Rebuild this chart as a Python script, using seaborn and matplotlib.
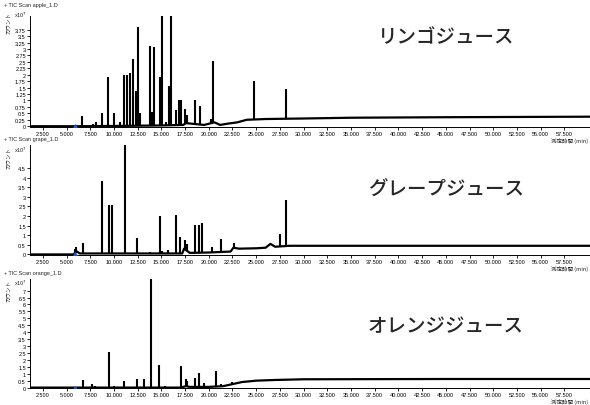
import numpy as np
import pandas as pd
import matplotlib
matplotlib.use("Agg")
import matplotlib.pyplot as plt
import seaborn as sns

# ---------------- data ----------------
sample_titles = ["+ TIC Scan apple_1.D", "+ TIC Scan grape_1.D", "+ TIC Scan orange_1.D"]
juice_labels = ["リンゴジュース", "グレープジュース", "オレンジジュース"]

x_ticks = [2.5, 5.0, 7.5, 10.0, 12.5, 15.0, 17.5, 20.0, 22.5, 25.0, 27.5, 30.0,
           32.5, 35.0, 37.5, 40.0, 42.5, 45.0, 47.5, 50.0, 52.5, 55.0, 57.5]

apple_yticks = [0, 0.25, 0.5, 0.75, 1, 1.25, 1.5, 1.75, 2, 2.25, 2.5, 2.75, 3, 3.25, 3.5, 3.75]
grape_yticks = [0, 0.5, 1, 1.5, 2, 2.5, 3, 3.5, 4, 4.5]
orange_yticks = [0, 0.5, 1, 1.5, 2, 2.5, 3, 3.5, 4, 4.5, 5, 5.5, 6, 6.5, 7]

# peak retention times (min) and apex heights (x10^7 counts)
apple_rt = [6.68, 7.75, 8.10, 8.69, 9.39, 10.00, 10.60, 11.10, 11.35, 11.68, 11.96,
            12.38, 12.52, 12.80, 13.79, 13.97, 14.21, 14.84, 15.02, 15.50, 15.82,
            16.07, 16.50, 16.85, 17.02, 17.50, 17.75, 18.60, 19.06, 20.20, 20.43,
            24.72, 28.10]
apple_h = [0.40, 0.10, 0.15, 0.50, 1.90, 0.50, 0.15, 2.00, 1.97, 2.08, 2.62,
           1.36, 3.85, 0.50, 3.10, 0.55, 3.06, 1.90, 4.60, 0.15, 1.55,
           4.60, 0.63, 1.00, 1.00, 0.66, 0.45, 1.00, 0.78, 0.30, 2.55,
           1.76, 1.45]
apple_base_t = [1.1, 6.0, 10.0, 15.0, 17.3, 17.6, 19.5, 20.6, 21.2, 22.0, 23.0, 24.0,
                26.0, 30.0, 35.0, 45.0, 60.3]
apple_base_v = [0.0, 0.0, 0.01, 0.03, 0.05, 0.12, 0.05, 0.15, 0.05, 0.10, 0.15, 0.25,
                0.28, 0.30, 0.33, 0.35, 0.37]

grape_rt = [5.90, 6.05, 6.69, 7.60, 7.85, 8.69, 9.46, 9.81, 11.15, 12.42, 13.80,
            14.84, 15.10, 15.70, 16.50, 16.99, 17.50, 17.75, 18.60, 18.99, 19.27,
            20.30, 21.30, 22.70, 27.47, 28.17]
grape_h = [0.30, 0.37, 0.60, 0.10, 0.10, 3.84, 2.58, 2.60, 5.90, 0.83, 0.15,
           1.98, 0.20, 0.25, 2.03, 0.91, 0.74, 0.55, 1.52, 1.52, 1.64,
           0.40, 0.79, 0.60, 1.06, 2.82]
grape_base_t = [1.1, 5.7, 6.1, 6.4, 8.0, 12.0, 17.2, 17.4, 18.0, 20.0, 22.3, 22.6,
                23.2, 25.0, 26.0, 26.5, 27.0, 28.5, 35.0, 45.0, 60.3]
grape_base_v = [0.0, 0.0, 0.15, 0.05, 0.05, 0.05, 0.05, 0.30, 0.08, 0.10, 0.15, 0.35,
                0.30, 0.32, 0.35, 0.55, 0.40, 0.45, 0.45, 0.45, 0.45]

orange_rt = [6.69, 7.74, 8.00, 9.43, 10.00, 11.08, 12.42, 13.22, 13.96, 14.80,
             15.40, 17.02, 17.55, 17.75, 18.60, 18.96, 19.50, 20.75, 21.30, 22.40]
orange_h = [0.57, 0.26, 0.10, 2.59, 0.15, 0.50, 0.65, 0.60, 8.20, 1.65,
            0.15, 1.53, 0.60, 0.45, 0.70, 1.03, 0.30, 1.22, 0.25, 0.40]
orange_base_t = [1.1, 17.0, 17.6, 18.0, 20.0, 21.5, 22.5, 23.5, 25.0, 27.0, 30.0, 45.0, 60.3]
orange_base_v = [0.0, 0.0, 0.10, 0.05, 0.05, 0.10, 0.25, 0.40, 0.50, 0.55, 0.60, 0.62, 0.62]

marker_t = [5.9]   # small blue marker on baseline

# ---------------- style ----------------
sns.set_theme(style="ticks")
plt.rcParams['font.family'] = ['Liberation Sans Narrow', 'Liberation Sans', 'DejaVu Sans',
                               'Noto Sans CJK JP']
CJK = ['Noto Sans CJK JP', 'DejaVu Sans']
SMALL = 4.0

fig = plt.figure(figsize=(5.9, 4.06), dpi=100)
W, H = 590.0, 406.0

panels = [
    dict(title=sample_titles[0], label=juice_labels[0], rt=apple_rt, h=apple_h,
         bt=apple_base_t, bv=apple_base_v, yt=apple_yticks, ymax=4.28,
         top=17, bottom=128, label_y=38, title_y=5),
    dict(title=sample_titles[1], label=juice_labels[1], rt=grape_rt, h=grape_h,
         bt=grape_base_t, bv=grape_base_v, yt=grape_yticks, ymax=5.7,
         top=146, bottom=256, label_y=190, title_y=140),
    dict(title=sample_titles[2], label=juice_labels[2], rt=orange_rt, h=orange_h,
         bt=orange_base_t, bv=orange_base_v, yt=orange_yticks, ymax=7.84,
         top=280, bottom=389, label_y=327, title_y=273),
]

for p in panels:
    ax = fig.add_axes([30 / W, 1 - p['bottom'] / H, 560 / W, (p['bottom'] - p['top']) / H])
    base = pd.DataFrame({"t": p['bt'], "v": p['bv']})
    sns.lineplot(data=base, x="t", y="v", ax=ax, color="black", lw=1.6, zorder=3)
    lows = np.interp(p['rt'], p['bt'], p['bv'])
    ax.vlines(p['rt'], lows, p['h'], color="black", lw=1.5, zorder=4)
    ax.plot(marker_t, [0.0], marker="^", color="#1f5fbf", ms=2.5, lw=0, zorder=5)

    ax.set_xlim(1.15, 60.2)
    ax.set_ylim(-0.03, p['ymax'])
    ax.set_xticks(x_ticks)
    ax.set_xticklabels([f"{v:.3f}" for v in x_ticks])
    ax.set_yticks(p['yt'])
    ax.set_yticklabels([f"{v:g}" for v in p['yt']])
    ax.tick_params(axis='both', labelsize=SMALL, length=2, width=0.6, pad=1, colors="black")
    ax.set_xlabel("")
    ax.set_ylabel("")
    sns.despine(ax=ax)
    for s in ("left", "bottom"):
        ax.spines[s].set_linewidth(0.7)
        ax.spines[s].set_color("black")

    ty = p['title_y']
    fig.text(4 / W, 1 - ty / H, p['title'], fontsize=SMALL, ha="left", va="center")
    fig.text(27 / W, 1 - (ty + 10) / H, r"x10$^{7}$", fontsize=SMALL, ha="right", va="center")
    fig.text(9 / W, 1 - (ty + 18) / H, "カウント", fontsize=SMALL, rotation=90,
             ha="center", va="center", family=CJK)
    fig.text(588 / W, 1 - (p['bottom'] + 13) / H, "測定時間 (min)", fontsize=SMALL,
             ha="right", va="center", family=CJK)
    fig.text(446 / W, 1 - p['label_y'] / H, p['label'], fontsize=14, ha="center", va="center",
             family=CJK, fontweight="medium")

fig.savefig("out.png", dpi=100)
